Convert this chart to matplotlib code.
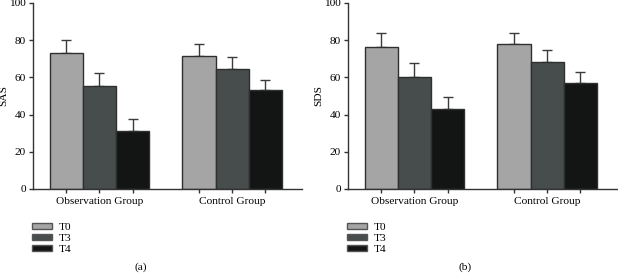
import numpy as np
import matplotlib.pyplot as plt
from matplotlib.patches import Patch

# Data
groups = ['Observation Group', 'Control Group']
times = ['T0', 'T3', 'T4']

sas_mean = {'T0': [73.3, 71.5], 'T3': [55.5, 64.5], 'T4': [31.2, 53.0]}
sas_sd = {'T0': [6.8, 6.3], 'T3': [6.7, 6.5], 'T4': [6.4, 5.4]}

sds_mean = {'T0': [76.5, 77.8], 'T3': [60.2, 68.4], 'T4': [43.2, 57.2]}
sds_sd = {'T0': [7.4, 6.2], 'T3': [7.5, 6.5], 'T4': [6.1, 5.5]}

colors = {'T0': '#a5a5a5', 'T3': '#474c4c', 'T4': '#131515'}
edge = '#2e3030'

plt.rcParams['font.family'] = ['Liberation Serif', 'DejaVu Serif']
plt.rcParams['font.size'] = 8.2

fig = plt.figure(figsize=(6.18, 2.74), dpi=100)

panels = [
    ('SAS', sas_mean, sas_sd, [33 / 618, 1 - 189 / 274, 269 / 618, 186 / 274], 141, '(a)'),
    ('SDS', sds_mean, sds_sd, [348 / 618, 1 - 189 / 274, 269 / 618, 186 / 274], 465, '(b)'),
]

group_x = np.array([0.0, 4.0])
offsets = {'T0': -1.0, 'T3': 0.0, 'T4': 1.0}

for ylabel, means, sds, rect, cap_x, cap in panels:
    ax = fig.add_axes(rect)
    bar_centres = []
    for t in times:
        xs = group_x + offsets[t]
        bar_centres.extend(xs)
        ax.bar(xs, means[t], width=1.0, color=colors[t], edgecolor=edge,
               linewidth=1.0, label=t, zorder=2)
        ax.errorbar(xs, means[t], yerr=[np.zeros(2), sds[t]], fmt='none',
                    ecolor='#3a3c3c', elinewidth=1.0, capsize=3.5, capthick=1.0,
                    zorder=1)

    ax.set_xlim(-2.0, 6.1)
    ax.set_ylim(0, 100)
    ax.set_yticks([0, 20, 40, 60, 80, 100])
    ax.xaxis.remove_overlapping_locs = False
    ax.set_xticks(sorted(bar_centres))
    ax.set_xticklabels([])
    ax.set_xticks(group_x, minor=True)
    ax.set_xticklabels(groups, minor=True)
    ax.tick_params(axis='x', which='minor', length=0, pad=6, labelsize=8.2)
    ax.tick_params(axis='both', which='major', length=3, width=1.0,
                   color='#333333', labelsize=8.2, pad=2)
    ax.set_ylabel(ylabel, labelpad=0.5)

    for side in ['top', 'right']:
        ax.spines[side].set_visible(False)
    for side in ['left', 'bottom']:
        ax.spines[side].set_linewidth(1.0)
        ax.spines[side].set_color('#333333')

    handles = [Patch(facecolor=colors[t], edgecolor='#555555', linewidth=1.0)
               for t in times]
    ax.legend(handles, times, loc='upper left',
              bbox_to_anchor=(rect[0] - 7 / 618, 1 - 217 / 274),
              bbox_transform=fig.transFigure, frameon=False,
              handlelength=1.75, handleheight=0.5, labelspacing=0.15,
              handletextpad=0.6, borderpad=0, fontsize=8.2)

    fig.text(cap_x / 618, 1 - 267 / 274, cap, ha='center', va='center',
             fontsize=8.2)

fig.savefig('out.png', dpi=100)
